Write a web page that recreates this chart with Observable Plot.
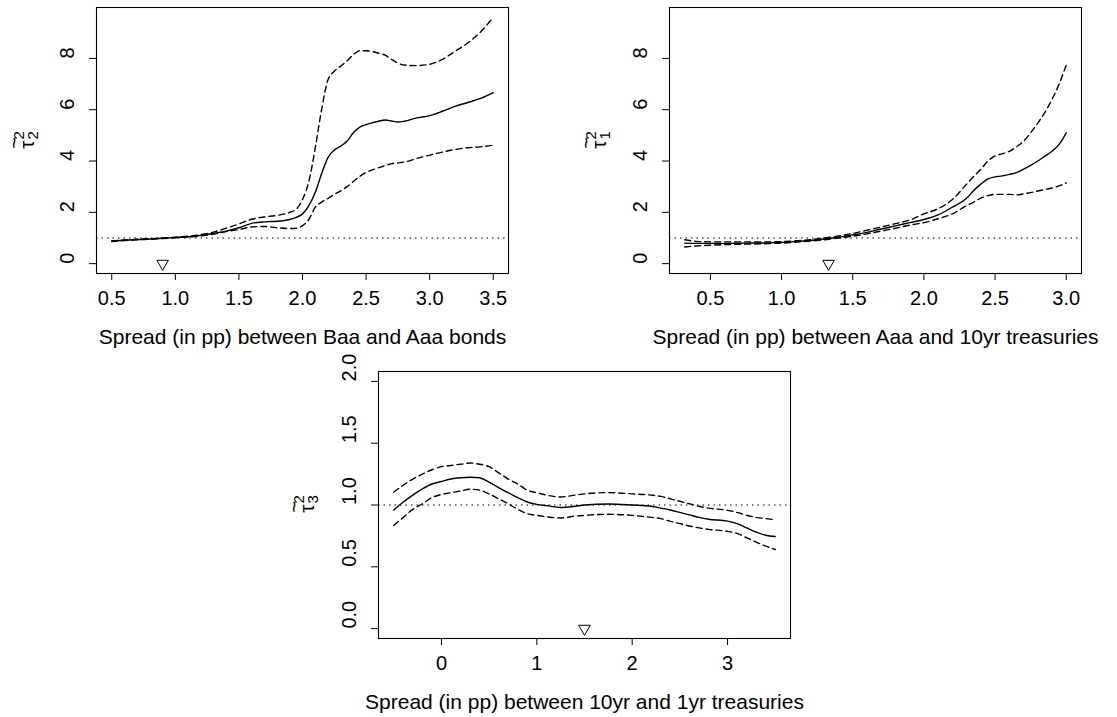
<!DOCTYPE html>
<html><head><meta charset="utf-8">
<script src="https://cdn.jsdelivr.net/npm/d3@7"></script>
<script src="https://cdn.jsdelivr.net/npm/@observablehq/plot@0.6"></script>
<style>
body{margin:0;background:#fff;}
#root{position:relative;width:1117px;height:717px;font-family:"Liberation Sans",Arial,Helvetica,sans-serif;color:#000;overflow:hidden;}
.panel{position:absolute;}
.ylab{position:absolute;font-size:21px;transform:translate(-50%,-50%) rotate(-90deg);white-space:nowrap;display:flex;align-items:center;line-height:1;}
.ylab .tau{position:relative;display:inline-block;}
.ylab .tl{position:absolute;left:0;right:0;text-align:center;top:-0.55em;font-size:0.95em;}
.ylab .ss{display:inline-flex;flex-direction:column;font-size:15px;line-height:0.95;margin-left:1px;}
</style></head><body><div id="root"></div>
<script>
// ---------- Data ----------
// Panel 1: Spread between Baa and Aaa bonds
const baaX    = [0.5,0.6,0.7,0.8,0.9,1.0,1.1,1.2,1.3,1.4,1.5,1.6,1.7,1.8,1.9,1.95,2.0,2.05,2.1,2.15,2.2,2.25,2.3,2.35,2.4,2.45,2.5,2.6,2.65,2.7,2.75,2.8,2.9,3.0,3.1,3.2,3.3,3.4,3.5];
const baaMean = [0.88,0.91,0.94,0.96,0.99,1.02,1.05,1.1,1.18,1.27,1.4,1.57,1.63,1.65,1.72,1.8,1.94,2.26,2.77,3.5,4.13,4.43,4.58,4.77,5.1,5.32,5.42,5.55,5.6,5.56,5.52,5.55,5.68,5.77,5.94,6.13,6.28,6.44,6.67];
const baaUpper= [0.88,0.92,0.95,0.97,1.0,1.03,1.07,1.13,1.23,1.38,1.55,1.73,1.82,1.88,2.0,2.12,2.5,3.2,4.5,6.0,7.16,7.5,7.7,7.9,8.15,8.3,8.3,8.2,8.13,7.96,7.82,7.74,7.72,7.77,7.96,8.28,8.6,9.03,9.6];
const baaLower= [0.86,0.9,0.93,0.95,0.98,1.01,1.04,1.08,1.15,1.25,1.33,1.43,1.45,1.4,1.37,1.38,1.48,1.72,2.2,2.4,2.54,2.7,2.84,3.0,3.2,3.4,3.55,3.74,3.82,3.9,3.93,3.96,4.1,4.23,4.35,4.45,4.52,4.55,4.62];
const baaMarker = [0.9];
const baaXTicks = [0.5,1.0,1.5,2.0,2.5,3.0,3.5];
const baaYTicks = [0,2,4,6,8];
const baaLabel = "Spread (in pp) between Baa and Aaa bonds";

// Panel 2: Spread between Aaa and 10yr treasuries
const aaaX    = [0.32,0.4,0.5,0.6,0.75,0.9,1.0,1.1,1.2,1.3,1.4,1.5,1.6,1.7,1.8,1.9,2.0,2.1,2.2,2.3,2.35,2.4,2.45,2.5,2.55,2.6,2.65,2.7,2.75,2.8,2.85,2.9,2.95,3.0];
const aaaMean = [0.8,0.79,0.79,0.79,0.8,0.81,0.83,0.86,0.9,0.96,1.03,1.12,1.22,1.35,1.47,1.6,1.72,1.9,2.2,2.55,2.85,3.1,3.3,3.38,3.42,3.48,3.55,3.68,3.83,4.0,4.19,4.38,4.65,5.1];
const aaaUpper= [0.93,0.87,0.85,0.85,0.85,0.85,0.86,0.89,0.93,1.0,1.08,1.18,1.3,1.43,1.56,1.7,1.94,2.14,2.5,3.1,3.4,3.68,4.0,4.2,4.28,4.38,4.55,4.77,5.1,5.48,5.9,6.4,7.0,7.74];
const aaaLower= [0.65,0.69,0.72,0.74,0.76,0.78,0.8,0.84,0.88,0.93,1.0,1.07,1.16,1.27,1.38,1.5,1.6,1.75,1.94,2.26,2.4,2.55,2.65,2.7,2.7,2.7,2.68,2.72,2.77,2.83,2.89,2.95,3.03,3.15];
const aaaMarker = [1.33];
const aaaXTicks = [0.5,1.0,1.5,2.0,2.5,3.0];
const aaaYTicks = [0,2,4,6,8];
const aaaLabel = "Spread (in pp) between Aaa and 10yr treasuries";

// Panel 3: Spread between 10yr and 1yr treasuries
const termX    = [-0.5,-0.4,-0.3,-0.2,-0.1,0,0.1,0.2,0.3,0.4,0.5,0.6,0.7,0.8,0.9,1.0,1.1,1.25,1.4,1.5,1.75,2.0,2.2,2.3,2.4,2.5,2.6,2.7,2.8,3.0,3.1,3.2,3.3,3.4,3.5];
const termMean = [0.96,1.024,1.08,1.13,1.17,1.19,1.21,1.22,1.225,1.22,1.185,1.14,1.1,1.06,1.024,1.005,0.995,0.98,0.99,1.0,1.008,1.0,0.99,0.975,0.96,0.94,0.92,0.9,0.885,0.87,0.85,0.815,0.78,0.755,0.745];
const termUpper= [1.105,1.16,1.21,1.25,1.285,1.31,1.32,1.33,1.34,1.33,1.31,1.26,1.21,1.17,1.12,1.1,1.08,1.065,1.08,1.09,1.1,1.09,1.08,1.07,1.05,1.03,1.01,0.99,0.975,0.957,0.94,0.917,0.9,0.89,0.88];
const termLower= [0.835,0.9,0.965,1.01,1.06,1.086,1.1,1.113,1.127,1.12,1.09,1.05,1.01,0.965,0.93,0.916,0.905,0.895,0.91,0.916,0.925,0.916,0.9,0.89,0.868,0.85,0.83,0.815,0.803,0.787,0.77,0.735,0.7,0.668,0.64];
const termMarker = [1.5];
const termXTicks = [0,1,2,3];
const termYTicks = [0.0,0.5,1.0,1.5,2.0];
const termLabel = "Spread (in pp) between 10yr and 1yr treasuries";

const refLine = [1];

// ---------- Drawing ----------
const FONT = '"Liberation Sans", Arial, Helvetica, sans-serif';
const root = document.getElementById("root");

function makePanel(c) {
  const rows = ys => c.x.map((x, i) => ({x, y: ys[i]}));
  const plot = Plot.plot({
    width: c.w, height: c.h,
    marginLeft: c.ml, marginRight: c.mr, marginTop: c.mt, marginBottom: c.mb,
    style: {fontFamily: FONT, background: "transparent", color: "#000", overflow: "visible"},
    x: {domain: c.xDomain, label: null},
    y: {domain: c.yDomain, label: null},
    marks: [
      Plot.axisX({ticks: c.xTicks, tickSize: 7, tickFormat: () => "", label: null, stroke: "#000"}),
      Plot.axisY({ticks: c.yTicks, tickSize: 7, tickFormat: () => "", label: null, stroke: "#000"}),
      Plot.text(c.xTicks, {x: d => d, frameAnchor: "bottom", dy: 31, text: c.xFmt, fontSize: 20, fill: "#000"}),
      Plot.text(c.yTicks, {y: d => d, frameAnchor: "left", dx: -29, rotate: -90, text: c.yFmt, fontSize: 20, fill: "#000"}),
      Plot.ruleY(refLine, {stroke: "#000", strokeWidth: 1.1, strokeDasharray: "1.5,4"}),
      Plot.line(rows(c.hi), {x: "x", y: "y", curve: "monotone-x", stroke: "#000", strokeWidth: 1.4, strokeDasharray: "6,4"}),
      Plot.line(rows(c.lo), {x: "x", y: "y", curve: "monotone-x", stroke: "#000", strokeWidth: 1.4, strokeDasharray: "6,4"}),
      Plot.line(rows(c.mean), {x: "x", y: "y", curve: "monotone-x", stroke: "#000", strokeWidth: 1.4}),
      Plot.dot(c.marker.map(m => ({x: m, y: 0})), {x: "x", y: "y", symbol: "triangle", rotate: 180, r: 4.3, stroke: "#000", strokeWidth: 1, fill: "none"}),
      Plot.frame({stroke: "#000", strokeWidth: 1.1}),
      Plot.text([c.xlabel], {frameAnchor: "bottom", dy: 70, text: d => d, fontSize: 21, fill: "#000"})
    ]
  });
  const div = document.createElement("div");
  div.className = "panel";
  div.style.left = c.left + "px";
  div.style.top = c.top + "px";
  div.appendChild(plot);
  root.appendChild(div);

  const yl = document.createElement("div");
  yl.className = "ylab";
  yl.style.left = c.ylx + "px";
  yl.style.top = c.yly + "px";
  yl.innerHTML = '<span class="tau">\u03C4<span class="tl">~</span></span><span class="ss"><span>2</span><span>' + c.sub + '</span></span>';
  root.appendChild(yl);
}

const fmt1 = d => d.toFixed(1);
const fmt0 = d => String(d);

makePanel({
  left: 0, top: 0, w: 558, h: 360, ml: 96, mr: 50, mt: 7, mb: 87,
  xDomain: [0.38, 3.62], yDomain: [-0.384, 9.984],
  xTicks: baaXTicks, yTicks: baaYTicks, xFmt: fmt1, yFmt: fmt0,
  x: baaX, mean: baaMean, hi: baaUpper, lo: baaLower, marker: baaMarker,
  xlabel: baaLabel, ylx: 26, yly: 140, sub: "2"
});
makePanel({
  left: 560, top: 0, w: 557, h: 360, ml: 109, mr: 36, mt: 7, mb: 87,
  xDomain: [0.2128, 3.1072], yDomain: [-0.384, 9.984],
  xTicks: aaaXTicks, yTicks: aaaYTicks, xFmt: fmt1, yFmt: fmt0,
  x: aaaX, mean: aaaMean, hi: aaaUpper, lo: aaaLower, marker: aaaMarker,
  xlabel: aaaLabel, ylx: 598, yly: 140, sub: "1"
});
makePanel({
  left: 280, top: 360, w: 540, h: 357, ml: 98, mr: 30, mt: 11, mb: 79,
  xDomain: [-0.66, 3.66], yDomain: [-0.08, 2.08],
  xTicks: termXTicks, yTicks: termYTicks, xFmt: fmt0, yFmt: fmt1,
  x: termX, mean: termMean, hi: termUpper, lo: termLower, marker: termMarker,
  xlabel: termLabel, ylx: 306, yly: 504, sub: "3"
});
</script>
</body></html>
